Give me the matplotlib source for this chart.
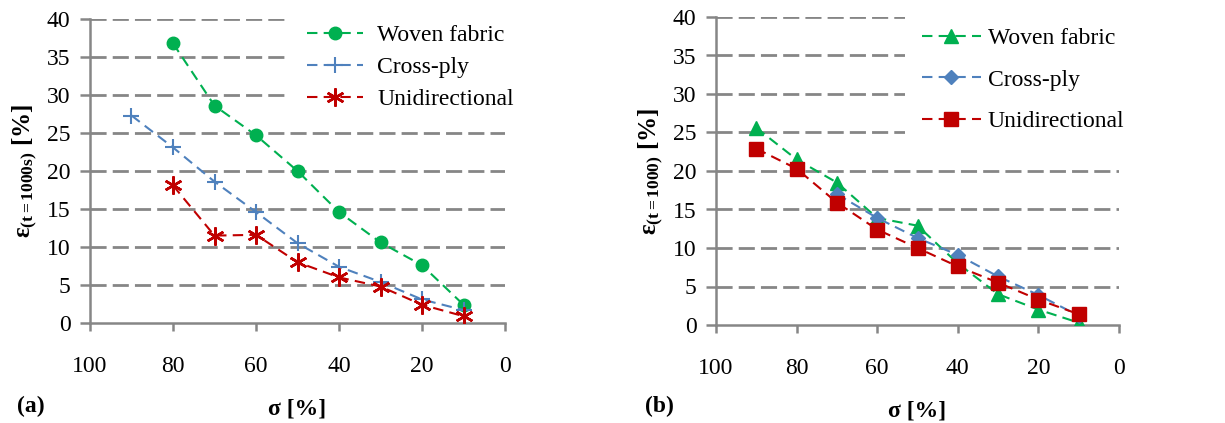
import matplotlib
matplotlib.use("Agg")
import matplotlib.pyplot as plt

plt.rcParams['font.family'] = ['Liberation Serif', 'DejaVu Serif']
plt.rcParams['mathtext.fontset'] = 'custom'
plt.rcParams['mathtext.rm'] = 'Liberation Serif'
plt.rcParams['mathtext.bf'] = 'Liberation Serif:bold'
plt.rcParams['mathtext.it'] = 'Liberation Serif:italic'

# --- data ---
# panel (a): strain after 1000 s
a_woven_x = [80, 70, 60, 50, 40, 30, 20, 10]
a_woven_y = [36.8, 28.6, 24.7, 20.0, 14.6, 10.6, 7.6, 2.4]
a_cross_x = [90, 80, 70, 60, 50, 40, 30, 20, 10]
a_cross_y = [27.3, 23.1, 18.6, 14.6, 10.5, 7.4, 5.4, 3.1, 1.7]
a_uni_x = [80, 70, 60, 50, 40, 30, 20, 10]
a_uni_y = [18.1, 11.5, 11.6, 8.0, 6.0, 4.8, 2.4, 0.9]

# panel (b)
b_woven_x = [90, 80, 70, 60, 50, 40, 30, 20, 10]
b_woven_y = [25.6, 21.5, 18.5, 13.9, 12.9, 8.0, 4.0, 2.0, 0.3]
b_cross_x = [70, 60, 50, 40, 30, 20, 10]
b_cross_y = [17.0, 13.9, 11.3, 9.1, 6.3, 3.9, 1.2]
b_uni_x = [90, 80, 70, 60, 50, 40, 30, 20, 10]
b_uni_y = [22.9, 20.3, 15.9, 12.4, 10.0, 7.6, 5.5, 3.3, 1.4]

labels = ['Woven fabric', 'Cross-ply', 'Unidirectional']
GREEN = '#00B050'
BLUE = '#4F81BD'
RED = '#C00000'
GRID = '#868686'

W, H = 1225, 423
fig = plt.figure(figsize=(W / 100, H / 100), dpi=100)


def px_axes(l, r, t, b):
    return fig.add_axes([l / W, 1 - b / H, (r - l) / W, (b - t) / H])


def style_axes(ax, ylabel):
    ax.set_xlim(100, 0)
    ax.set_ylim(0, 40)
    ax.set_xticks([100, 80, 60, 40, 20, 0])
    ax.set_yticks(range(0, 41, 5))
    for s in ['top', 'right']:
        ax.spines[s].set_visible(False)
    for s in ['left', 'bottom']:
        ax.spines[s].set_color(GRID)
        ax.spines[s].set_linewidth(1.8)
    ax.tick_params(axis='both', colors=GRID, width=1.8, labelsize=17,
                   labelcolor='black')
    ax.tick_params(axis='x', length=6, pad=18)
    ax.tick_params(axis='y', length=7, pad=7)
    for y in range(5, 41, 5):
        ax.axhline(y, color=GRID, lw=2, dashes=(5.8, 2.2), zorder=0)
    ax.set_ylabel(ylabel, fontsize=18, fontweight='bold', labelpad=6)
    ax.set_xlabel('σ [%]', fontsize=17, fontweight='bold', labelpad=15)
    ax.set_facecolor('none')


def white_legend(leg):
    leg.get_frame().set_facecolor('white')
    leg.get_frame().set_edgecolor('none')
    leg.get_frame().set_alpha(1)
    leg.set_zorder(5)


# ---------- panel (a) ----------
ax1 = px_axes(90, 505, 19, 323)
ax1.plot(a_woven_x, a_woven_y, color=GREEN, ls='--', dashes=(5, 3), lw=1.5,
         marker='o', ms=9, label=labels[0], zorder=3)
ax1.plot(a_cross_x, a_cross_y, color=BLUE, ls='--', dashes=(5, 3), lw=1.5,
         marker='+', ms=12, mew=1.5, label=labels[1], zorder=3)
ax1.plot(a_uni_x, a_uni_y, color=RED, ls='--', dashes=(5, 3), lw=1.5,
         marker=(6, 2, 0), ms=13, mew=1.8, label=labels[2], zorder=4)
style_axes(ax1, r'ε$_{\mathbf{(t=1000s)}}$ [%]')
leg1 = ax1.legend(loc='upper left', bbox_to_anchor=(290 / W, 1 - 8 / H),
                  bbox_transform=fig.transFigure, fontsize=17, frameon=True,
                  handlelength=2.4, handletextpad=0.6, labelspacing=0.45,
                  borderpad=0.7, borderaxespad=0, fancybox=False)
white_legend(leg1)
fig.text(17 / W, 1 - 406 / H, '(a)', fontsize=17, fontweight='bold',
         va='center', ha='left')

# ---------- panel (b) ----------
ax2 = px_axes(716, 1119, 17, 325)
ax2.plot(b_woven_x, b_woven_y, color=GREEN, ls='--', dashes=(5, 3), lw=1.5,
         marker='^', ms=10, label=labels[0], zorder=3)
ax2.plot(b_cross_x, b_cross_y, color=BLUE, ls='--', dashes=(5, 3), lw=1.5,
         marker='D', ms=7, label=labels[1], zorder=3)
ax2.plot(b_uni_x, b_uni_y, color=RED, ls='--', dashes=(5, 3), lw=1.5,
         marker='s', ms=10, label=labels[2], zorder=4)
style_axes(ax2, r'ε$_{\mathbf{(t=1000)}}$ [%]')
leg2 = ax2.legend(loc='upper left', bbox_to_anchor=(905 / W, 1 - 11 / H),
                  bbox_transform=fig.transFigure, fontsize=17, frameon=True,
                  handlelength=2.5, handletextpad=0.3, labelspacing=0.85,
                  borderpad=0.7, borderaxespad=0, fancybox=False)
white_legend(leg2)
fig.text(645 / W, 1 - 406 / H, '(b)', fontsize=17, fontweight='bold',
         va='center', ha='left')

fig.savefig('out.png', dpi=100, facecolor='white')
